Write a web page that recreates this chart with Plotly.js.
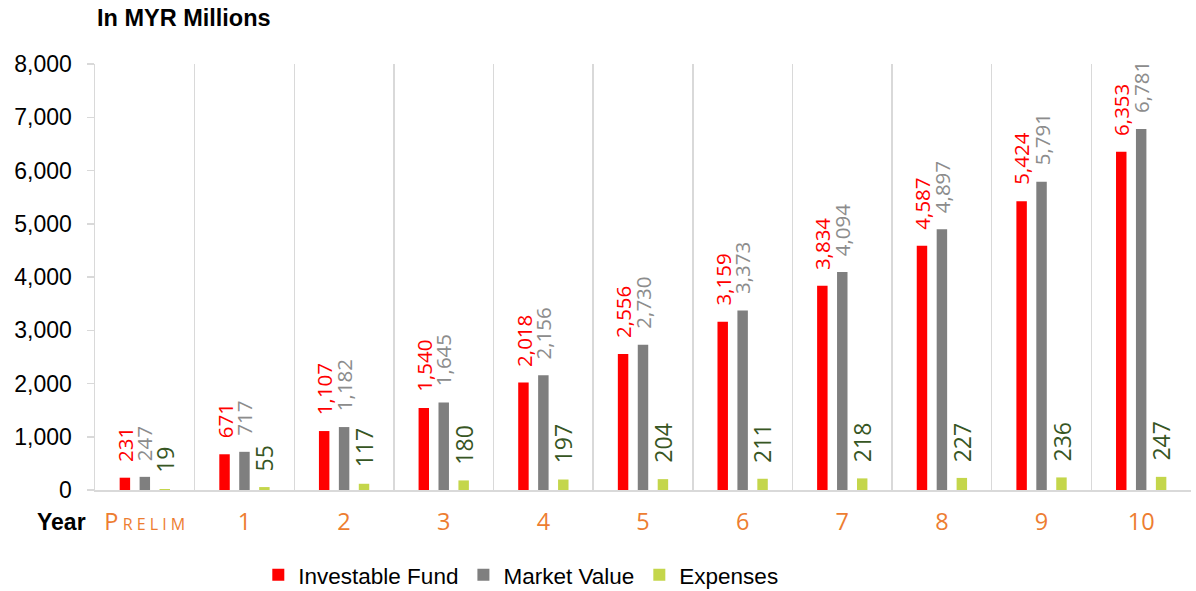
<!DOCTYPE html>
<html>
<head>
<meta charset="utf-8">
<script src="https://cdn.plot.ly/plotly-3.0.1.min.js"></script>
<style>html,body{margin:0;padding:0;background:#fff;}#chart{width:1196px;height:591px;}</style>
</head>
<body>
<div id="chart"></div>
<script>
// ---- Data ----
const categories = ['Prelim', '1', '2', '3', '4', '5', '6', '7', '8', '9', '10'];
const tickLabels = ['P<span style="font-size:16px"> R E L I M</span>', '1', '2', '3', '4', '5', '6', '7', '8', '9', '10'];
const investableFund = [231, 671, 1107, 1540, 2018, 2556, 3159, 3834, 4587, 5424, 6353];
const marketValue = [247, 717, 1182, 1645, 2156, 2730, 3373, 4094, 4897, 5791, 6781];
const expenses = [19, 55, 117, 180, 197, 204, 211, 218, 227, 236, 247];
const seriesNames = ['Investable Fund', 'Market Value', 'Expenses'];

// ---- Styles ----
const barColors = ['#FF0000', '#7F7F7F', '#C4D64B'];
const labelColors = ['#FF0000', '#8C8C8C', '#375623'];
const labelSizes = [20.5, 20.5, 23];
const barWidth = 0.105;
const centers = [-0.2, 0, 0.2];
const pxShift = [-20, 0, 20];
const allSeries = [investableFund, marketValue, expenses];

const traces = allSeries.map((vals, i) => ({
  type: 'bar',
  name: seriesNames[i],
  x: categories,
  y: vals,
  width: barWidth,
  offset: centers[i] - barWidth / 2,
  marker: {color: barColors[i]},
  hoverinfo: 'skip'
}));

const fmt = v => v.toLocaleString('en-US');
const annotations = [];
allSeries.forEach((vals, i) => {
  vals.forEach((v, j) => {
    annotations.push({
      x: categories[j], y: v, xref: 'x', yref: 'y',
      text: fmt(v), showarrow: false, textangle: -90,
      xanchor: 'center', yanchor: 'bottom',
      xshift: pxShift[i], yshift: 14,
      font: {family: 'Open Sans, sans-serif', size: labelSizes[i], color: labelColors[i]}
    });
  });
});
annotations.push({
  text: '<b>Year</b>', xref: 'paper', yref: 'paper', x: 0, y: 0,
  xanchor: 'right', yanchor: 'middle', xshift: -7, yshift: -32, showarrow: false,
  font: {family: 'Liberation Sans, Arial, sans-serif', size: 23, color: '#000'}
});

const layout = {
  width: 1196, height: 591,
  margin: {l: 95, r: 5, t: 64, b: 101, autoexpand: false},
  paper_bgcolor: '#fff', plot_bgcolor: '#fff',
  title: {
    text: '<b>In MYR Millions</b>', xref: 'container', yref: 'container',
    x: 97 / 1196, xanchor: 'left', y: 1 - 18 / 591, yanchor: 'middle',
    font: {family: 'Liberation Sans, Arial, sans-serif', size: 23.5, color: '#000'}
  },
  barmode: 'group',
  showlegend: true,
  legend: {
    orientation: 'h', x: 0.149, xanchor: 'left', y: -0.2, yanchor: 'middle',
    font: {family: 'Liberation Sans, Arial, sans-serif', size: 22.5, color: '#000'},
    traceorder: 'normal'
  },
  xaxis: {
    type: 'category', categoryorder: 'array', categoryarray: categories,
    tickvals: categories, ticktext: tickLabels,
    tickson: 'boundaries', showgrid: true, gridcolor: '#D9D9D9', gridwidth: 1.5,
    ticks: '', showline: true, linecolor: '#D9D9D9', linewidth: 2,
    tickfont: {family: 'Open Sans, sans-serif', size: 23.5, color: '#ED7D31'},
    ticklabelstandoff: 10,
    zeroline: false, fixedrange: true
  },
  yaxis: {
    range: [0, 8000], dtick: 1000, tick0: 0, tickformat: ',d',
    showgrid: false, zeroline: false,
    showline: true, linecolor: '#D9D9D9', linewidth: 1.5,
    ticks: 'outside', ticklen: 7, tickcolor: '#D9D9D9', tickwidth: 1.5,
    tickfont: {family: 'Liberation Sans, Arial, sans-serif', size: 23, color: '#000'},
    ticklabelstandoff: 10,
    fixedrange: true
  },
  annotations: annotations
};

Plotly.newPlot('chart', traces, layout, {displayModeBar: false, staticPlot: true});
</script>
</body>
</html>
